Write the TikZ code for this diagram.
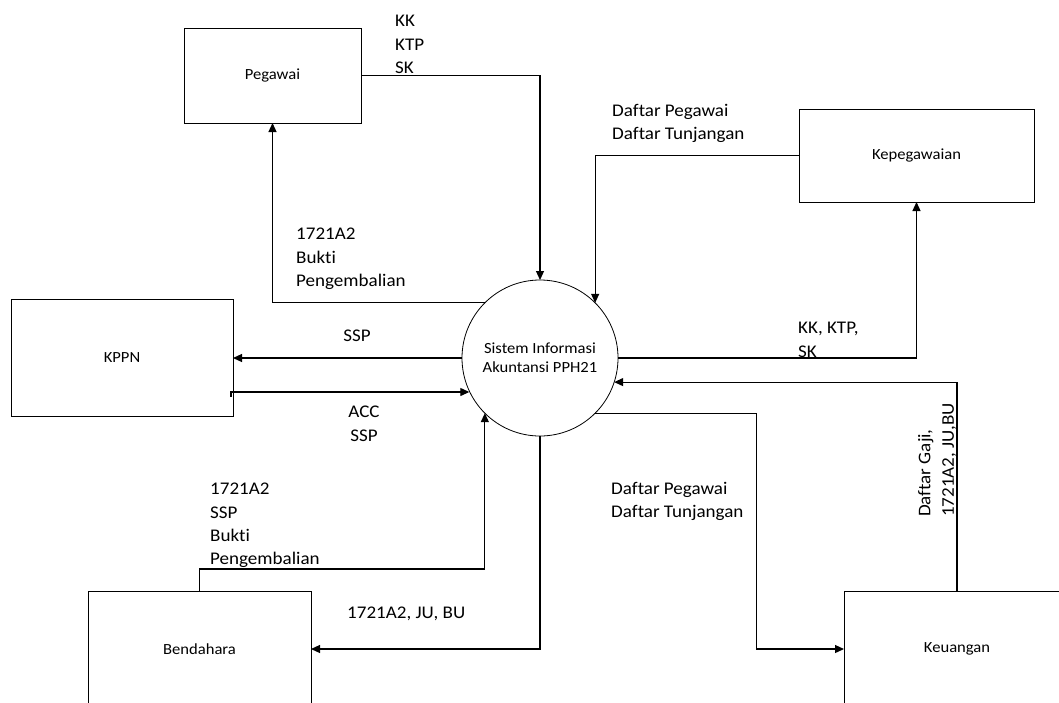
\documentclass[tikz,border=0pt]{standalone}
\usepackage{fontspec}
\setmainfont{Carlito}[FakeStretch=1.07,Ligatures=NoCommon]
\usetikzlibrary{arrows.meta,calc}
\begin{document}
\begin{tikzpicture}[x=1pt,y=-1pt,
  ent/.style={draw, line width=0.9pt, inner sep=0pt, outer sep=0pt,
              font=\fontsize{15.5}{19}\selectfont},
  proc/.style={draw, circle, line width=0.8pt, inner sep=0pt, outer sep=0pt,
               minimum size=156pt, align=center,
               font=\fontsize{15.5}{19}\selectfont},
  conn/.style={line width=1.2pt, -{Triangle[length=9pt,width=8pt]}},
  lbl/.style={inner sep=0pt, anchor=north west, align=left,
              font=\fontsize{17.8}{23.4}\selectfont}]
\useasboundingbox (0,0) rectangle (1059,702);
\clip (0,0) rectangle (1059,702);
\fill[white] (0,0) rectangle (1059,702);

% entities
\node[ent, minimum width=177pt, minimum height=95pt] (peg) at (272.5,75.5) {Pegawai};
\node[ent, minimum width=235pt, minimum height=93pt] (kep) at (916.5,155.5) {Kepegawaian};
\node[ent, minimum width=222pt, minimum height=117pt] (kppn) at (122,357.5) {KPPN};
\node[ent, minimum width=223pt, minimum height=116pt] (ben) at (199.5,649) {Bendahara};
\node[ent, minimum width=226pt, minimum height=116pt] (keu) at (957,649) {Keuangan};
\node[proc] (sys) at (540,358) {Sistem Informasi\\Akuntansi PPH21};

% connectors
\draw[conn] (peg.east) -| (sys.north);
\draw[conn] (kep.west) -| (sys.north east);
\draw[conn] (sys.north west) -| (peg.south);
\draw[conn] (sys.east) -| (kep.south);
\draw[conn] (sys.west) -- (sys.west -| kppn.east);
\coordinate (kin) at ($(kppn.east)+(-2,34.5)$);
\draw[conn] ($(kin)+(0,5)$) -- (kin) -- (kin -| sys.205.8);
\draw[conn] (keu.north) |- (sys.-18);
\draw[conn] (sys.south east) -- ++(161,0) |- (keu.west);
\draw[conn] (ben.north) -- ++(0,-22) -| (sys.south west);
\draw[conn] (sys.south) |- (ben.east);

% labels
\node[lbl] (l1) at (395,15) {KK\\KTP\\SK};
\node[lbl] (l2) at (612,104) {Daftar Pegawai\\Daftar Tunjangan};
\node[lbl] (l3) at (296,228) {1721A2\\Bukti\\Pengembalian};
\node[lbl, anchor=north, align=center] (l4) at (357,330) {SSP};
\node[lbl, anchor=north, align=center] (l5) at (364,406) {ACC\\SSP};
\node[lbl] (l6) at (798,322) {KK, KTP,\\SK};
\node[lbl] (l7) at (611,482) {Daftar Pegawai\\Daftar Tunjangan};
\node[lbl] (l8) at (210,483) {1721A2\\SSP\\Bukti\\Pengembalian};
\node[lbl] (l9) at (347,607) {1721A2, JU, BU};
\node[lbl, rotate=90] (l10) at (918,517) {Daftar Gaji,\\1721A2, JU,BU};
\end{tikzpicture}
\end{document}
